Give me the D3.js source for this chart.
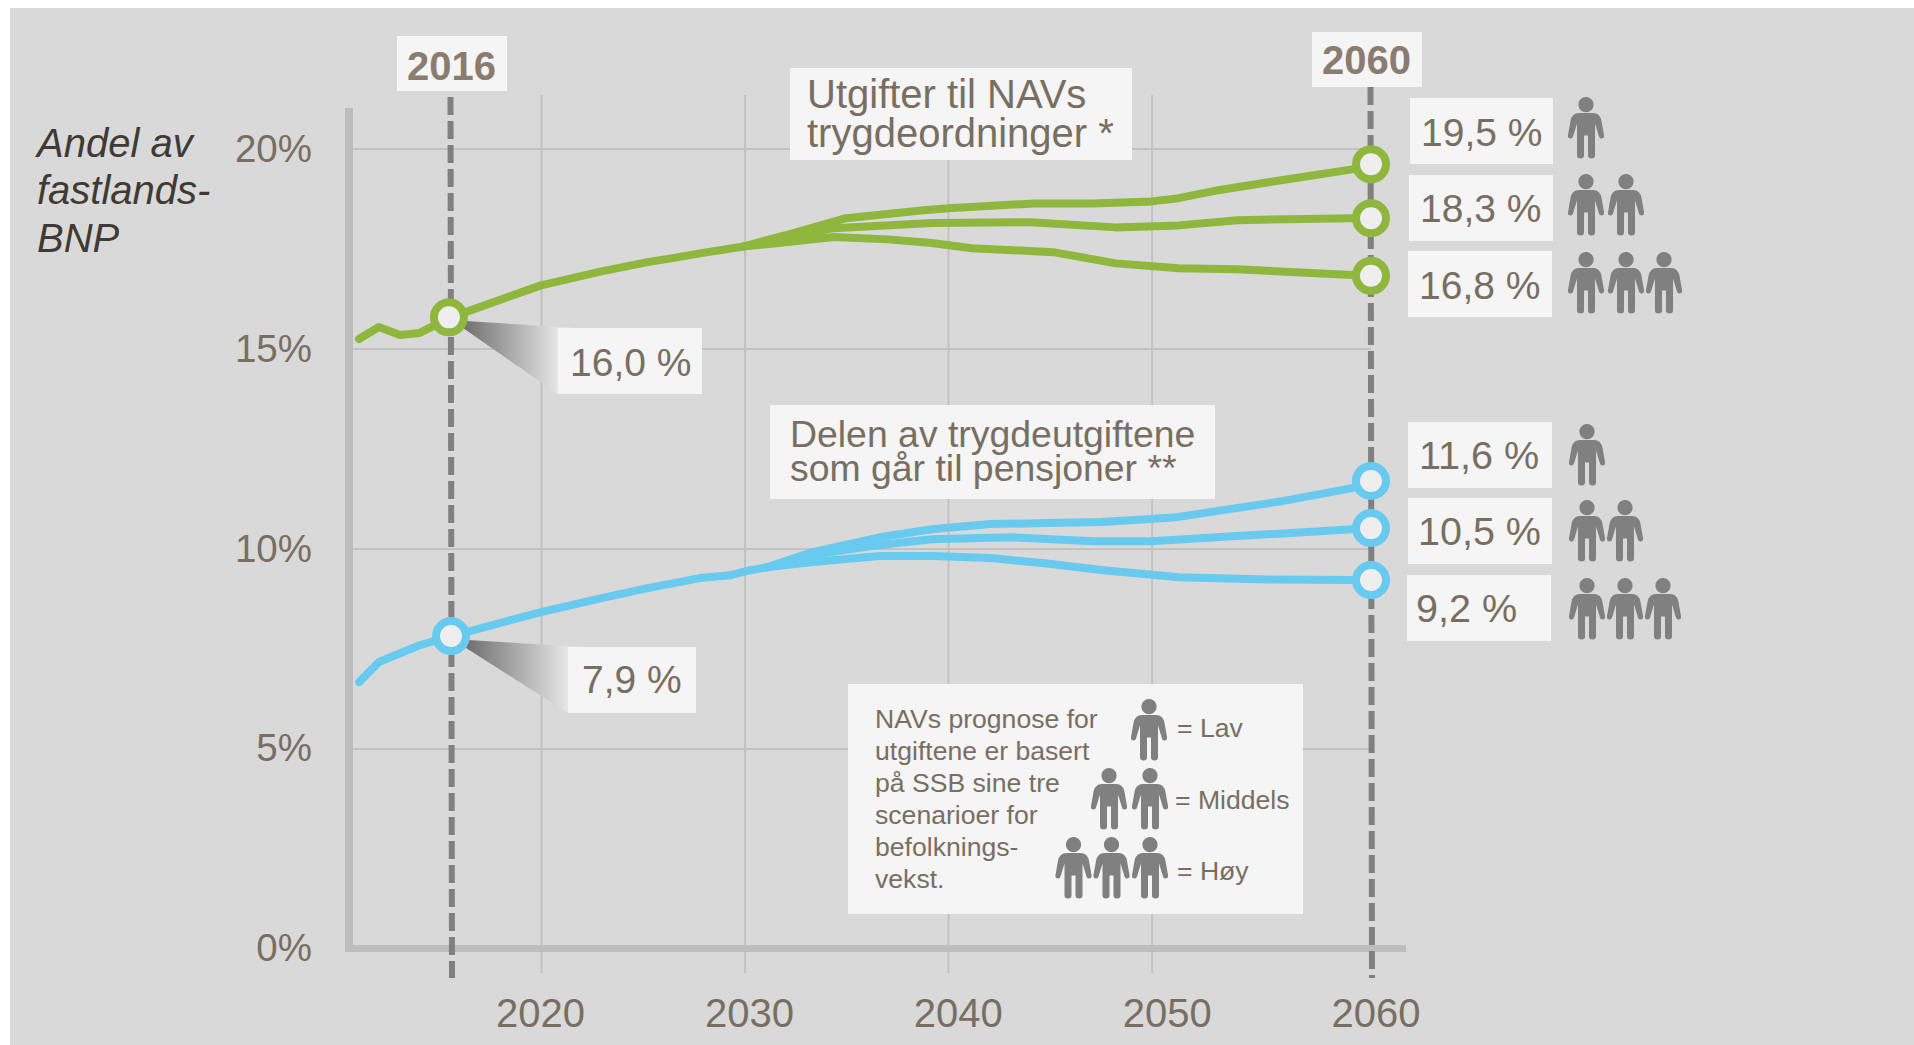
<!DOCTYPE html>
<html lang="no">
<head>
<meta charset="utf-8">
<script src="https://cdn.jsdelivr.net/npm/d3@7"></script>
<style>
html,body{margin:0;padding:0;background:#fff;}
svg{display:block;}
text{font-family:"Liberation Sans",Arial,sans-serif;}
</style>
</head>
<body>
<svg id="chart" width="1914" height="1045"></svg>
<script>
// ---- data (year, % of GDP) ----
const yTicks = [0, 5, 10, 15, 20];
const xTickYears = [2020, 2030, 2040, 2050, 2060];
const gridYears = [2020, 2030, 2040, 2050];
const markerYears = [2016, 2060];

const greenHistYears = [2011.6, 2012.55, 2013.56, 2014.5, 2016, 2020.3, 2023.2, 2025.4, 2026.6, 2027.9, 2030.07];
const greenHistValues = [15.24, 15.54, 15.34, 15.39, 15.78, 16.58, 16.93, 17.16, 17.26, 17.38, 17.56];
const greenLowYears = [2031.1, 2032.2, 2034.9, 2038.6, 2039.8, 2043.9, 2046.7, 2049.5, 2050.8, 2052.7, 2055.7, 2059.1, 2060];
const greenLowValues = [17.71, 17.86, 18.26, 18.46, 18.51, 18.63, 18.63, 18.68, 18.76, 18.96, 19.21, 19.48, 19.61];
const greenMidYears = [2031.1, 2034.3, 2039, 2043.7, 2047.8, 2050.8, 2053.6, 2059.1, 2060];
const greenMidValues = [17.66, 18.01, 18.14, 18.16, 18.03, 18.08, 18.21, 18.26, 18.26];
const greenHighYears = [2031.1, 2034.3, 2036.9, 2039, 2040.9, 2044.8, 2047.8, 2050.8, 2053.6, 2059.1, 2060];
const greenHighValues = [17.61, 17.79, 17.73, 17.64, 17.51, 17.41, 17.13, 17.01, 16.98, 16.84, 16.82];

const blueHistYears = [2011.6, 2012.55, 2014.5, 2016, 2020.3, 2023.2, 2025.4, 2027.9, 2029.35, 2030.07, 2031.1];
const blueHistValues = [6.66, 7.16, 7.58, 7.81, 8.41, 8.76, 9.01, 9.26, 9.33, 9.43, 9.53];
const blueLowYears = [2033.3, 2036.5, 2039, 2041.8, 2043.9, 2047.1, 2049.5, 2050.8, 2055.7, 2059.1, 2060];
const blueLowValues = [9.91, 10.28, 10.48, 10.61, 10.63, 10.66, 10.74, 10.79, 11.18, 11.51, 11.69];
const blueMidYears = [2033.3, 2036.5, 2039, 2042.8, 2046.7, 2049.5, 2053.6, 2059.1, 2060];
const blueMidValues = [9.84, 10.09, 10.23, 10.28, 10.18, 10.18, 10.31, 10.48, 10.51];
const blueHighYears = [2033.3, 2036.5, 2039, 2041.8, 2044.4, 2047.1, 2050.8, 2054.6, 2059.1, 2060];
const blueHighValues = [9.66, 9.81, 9.81, 9.76, 9.63, 9.46, 9.28, 9.23, 9.21, 9.21];

const endLabelsGreen = ["19,5 %", "18,3 %", "16,8 %"];
const endLabelsBlue = ["11,6 %", "10,5 %", "9,2 %"];
const startLabels = ["16,0 %", "7,9 %"];
const yTitleLines = ["Andel av", "fastlands-", "BNP"];
const titleGreen = ["Utgifter til NAVs", "trygdeordninger *"];
const titleBlue = ["Delen av trygdeutgiftene", "som går til pensjoner **"];
const noteLines = ["NAVs prognose for", "utgiftene er basert", "på SSB sine tre", "scenarioer for", "befolknings-", "vekst."];
const legendLabels = ["= Lav", "= Middels", "= Høy"];

// ---- colours ----
const GREEN = "#8fb73d", BLUE = "#68caef", TEXT = "#786e62", BOX = "#f5f5f5",
      GRID = "#c2c2c2", AXIS = "#bdbdbd", DASH = "#808080", ICON = "#808080";

// ---- scales: the picture's grid, tick labels and curves each sit on a slightly different spacing ----
const y = d3.scaleLinear().domain([0, 20]).range([948.4, 148.6]);
const x = d3.scaleLinear().domain([2016, 2060]).range([451, 1371]);
const xGrid = d3.scaleLinear().domain([2020, 2050]).range([541, 1151.6]);
const xLabels = d3.scaleLinear().domain([2020, 2060]).range([540, 1375.5]);

const svg = d3.select("#chart");
const defs = svg.append("defs");

svg.append("rect").attr("x", 10).attr("y", 8).attr("width", 1904).attr("height", 1037).attr("fill", "#d9d9d9");

// person icon
defs.append("path").attr("id", "body")
  .attr("d", "M11 16h14q7 0 8.5 8l2.5 14q.5 3-2 3.5q-2.5.5-3-2l-4-13v32q0 3-3.5 3q-3.5 0-3.5-3v-20h-4v20q0 3-3.5 3q-3.5 0-3.5-3v-32l-4 13q-.5 2.5-3 2q-2.5-.5-2-3.5l2.5-14q1.5-8 8.5-8zM18 0a7.6 7.6 0 1 0 .01 0z");

// gradient for callout wedges
const grad = defs.append("linearGradient").attr("id", "wedge");
grad.append("stop").attr("offset", "0").attr("stop-color", "#6e6e6e");
grad.append("stop").attr("offset", "0.85").attr("stop-color", "#e6e6e6");
grad.append("stop").attr("offset", "1").attr("stop-color", "#ececec");

// ---- grid (drawn with the axis generators) ----
const yGridG = svg.append("g").attr("transform", "translate(1371,0)")
  .call(d3.axisLeft(y).tickValues(yTicks.filter(d => d > 0)).tickSize(1018).tickFormat(""));
yGridG.select(".domain").remove();
yGridG.selectAll("line").attr("stroke", GRID).attr("stroke-width", 2);

const xGridG = svg.append("g").attr("transform", "translate(0,973)")
  .call(d3.axisTop(xGrid).tickValues(gridYears).tickSize(878).tickFormat(""));
xGridG.select(".domain").remove();
xGridG.selectAll("line").attr("stroke", GRID).attr("stroke-width", 2);

// ---- main axis lines ----
svg.append("rect").attr("x", 345).attr("y", 108).attr("width", 8).attr("height", 844).attr("fill", AXIS);
svg.append("rect").attr("x", 345).attr("y", 945).attr("width", 1061).attr("height", 7).attr("fill", AXIS);

// ---- tick labels ----
const yAxisG = svg.append("g").attr("transform", "translate(312,0)")
  .call(d3.axisLeft(y).tickValues(yTicks).tickSize(0).tickPadding(0).tickFormat(d => d + "%"));
yAxisG.select(".domain").remove();
yAxisG.selectAll("text").attr("fill", TEXT).attr("font-size", 38.5).attr("dy", 12.5).attr("font-family", "Liberation Sans");

const xAxisG = svg.append("g").attr("transform", "translate(0,1027)")
  .call(d3.axisBottom(xLabels).tickValues(xTickYears).tickSize(0).tickPadding(0).tickFormat(d3.format("d")));
xAxisG.select(".domain").remove();
xAxisG.selectAll("text").attr("fill", TEXT).attr("font-size", 40).attr("dy", 0).attr("y", 0).attr("font-family", "Liberation Sans");

// ---- dashed marker lines ----
svg.selectAll("line.marker").data(markerYears).join("line").attr("class", "marker")
  .attr("x1", d => x(d) - 0.5).attr("x2", d => x(d) + 1)
  .attr("y1", d => d === 2016 ? 97 : 87).attr("y2", 978)
  .attr("stroke", DASH).attr("stroke-width", 6).attr("stroke-dasharray", "18 6");

// ---- callout wedges ----
function wedge(points) {
  svg.append("polygon").attr("points", points.map(p => p.join(",")).join(" ")).attr("fill", "url(#wedge)");
}
wedge([[466, 321], [575, 328], [558, 394], [463, 328]]);
wedge([[468, 640], [585, 647], [568, 713], [466, 648]]);

// ---- lines ----
const lineGen = d3.line().x(d => x(d[0])).y(d => y(d[1])).curve(d3.curveLinear);
const series = [
  [greenHistYears, greenHistValues, GREEN],
  [greenLowYears, greenLowValues, GREEN],
  [greenMidYears, greenMidValues, GREEN],
  [greenHighYears, greenHighValues, GREEN],
  [blueHistYears, blueHistValues, BLUE],
  [blueLowYears, blueLowValues, BLUE],
  [blueMidYears, blueMidValues, BLUE],
  [blueHighYears, blueHighValues, BLUE]
];
// every branch continues from the last point of its history line
series.forEach((s, i) => {
  let pts = d3.zip(s[0], s[1]);
  if (i >= 1 && i <= 3) pts = [[greenHistYears.at(-1), greenHistValues.at(-1)], ...pts];
  if (i >= 5) pts = [[blueHistYears.at(-1), blueHistValues.at(-1)], ...pts];
  svg.append("path").attr("d", lineGen(pts)).attr("fill", "none")
    .attr("stroke", s[2]).attr("stroke-width", 8)
    .attr("stroke-linejoin", "round").attr("stroke-linecap", "round");
});

// ---- circles ----
const circles = [
  [greenHistYears[4] - 0.1, greenHistValues[4], GREEN],
  [blueHistYears[3], blueHistValues[3], BLUE],
  [greenLowYears.at(-1), greenLowValues.at(-1), GREEN],
  [greenMidYears.at(-1), greenMidValues.at(-1), GREEN],
  [greenHighYears.at(-1), greenHighValues.at(-1), GREEN],
  [blueLowYears.at(-1), blueLowValues.at(-1), BLUE],
  [blueMidYears.at(-1), blueMidValues.at(-1), BLUE],
  [blueHighYears.at(-1), blueHighValues.at(-1), BLUE]
];
svg.selectAll("circle.pt").data(circles).join("circle").attr("class", "pt")
  .attr("cx", d => x(d[0])).attr("cy", d => y(d[1])).attr("r", 15)
  .attr("fill", "#eeeeee").attr("stroke", d => d[2]).attr("stroke-width", 8);

// ---- boxes and text ----
function box(x0, y0, x1, y1) {
  svg.append("rect").attr("x", x0).attr("y", y0).attr("width", x1 - x0).attr("height", y1 - y0).attr("fill", BOX);
}
function label(t, px, py, size, opt = {}) {
  svg.append("text").text(t).attr("x", px).attr("y", py).attr("font-size", size)
    .attr("fill", opt.fill || TEXT)
    .attr("font-weight", opt.weight || null)
    .attr("font-style", opt.style || null);
}
function people(n, xs, top) {
  xs.slice(0, n).forEach(cx => {
    svg.append("use").attr("href", "#body")
      .attr("transform", `translate(${cx - 18},${top})`)
      .attr("fill", ICON);
  });
}

box(397, 36, 507, 91);
label("2016", 407, 80, 40, {weight: "bold", fill: "#8a7d70"});
box(1312, 32, 1422, 87);
label("2060", 1322, 74, 40, {weight: "bold", fill: "#8a7d70"});

yTitleLines.forEach((t, i) => label(t, 37, [157, 204, 252][i], 40, {style: "italic", fill: "#3f3a33"}));

box(558, 328, 702, 394);
label(startLabels[0], 570, 376, 39);
box(568, 647, 696, 713);
label(startLabels[1], 582, 693, 39);

box(790, 68, 1132, 160);
titleGreen.forEach((t, i) => label(t, 807, [108, 147][i], 40));
box(770, 405, 1215, 499);
titleBlue.forEach((t, i) => label(t, 790, [447, 481][i], 37.4));

const gb = [[1410, 98, 1553, 164, 1421, 146], [1409, 175, 1553, 241, 1420, 222], [1408, 251, 1552, 317, 1419, 299]];
gb.forEach((b, i) => { box(b[0], b[1], b[2], b[3]); label(endLabelsGreen[i], b[4], b[5], 39); });
const bb = [[1408, 422, 1552, 488, 1419, 469], [1408, 498, 1552, 564, 1418, 545], [1407, 575, 1551, 641, 1416, 622]];
bb.forEach((b, i) => { box(b[0], b[1], b[2], b[3]); label(endLabelsBlue[i], b[4], b[5], 39.5); });

people(1, [1586], 97);
people(2, [1586, 1626], 174);
people(3, [1586, 1626, 1664], 252);
people(1, [1587], 424);
people(2, [1587, 1625], 500);
people(3, [1587, 1625, 1663], 578);

box(848, 684, 1303, 914);
noteLines.forEach((t, i) => label(t, 875, 728 + i * 32, 26.6));
people(1, [1149], 699);
people(2, [1109, 1150], 768);
people(3, [1073.5, 1111.5, 1150], 837);
legendLabels.forEach((t, i) => label(t, [1177, 1175, 1177][i], [737, 809, 880][i], 26.6));
</script>
</body>
</html>
